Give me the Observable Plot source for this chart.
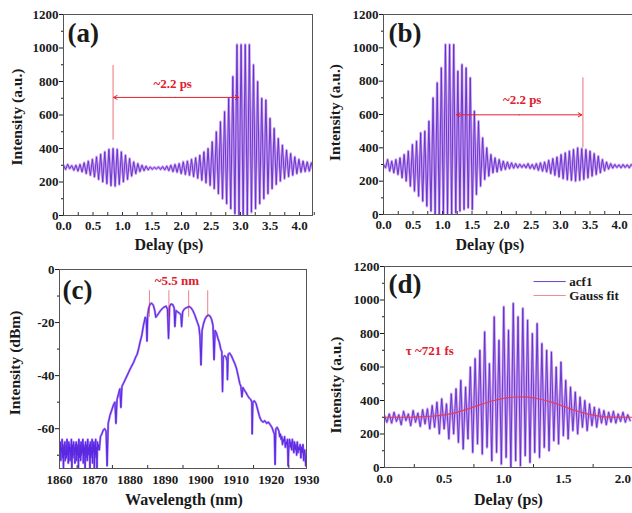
<!DOCTYPE html>
<html><head><meta charset="utf-8">
<script src="https://cdn.jsdelivr.net/npm/d3@7"></script>
<script src="https://cdn.jsdelivr.net/npm/@observablehq/plot@0.6"></script>
<style>
body{margin:0;background:#fff;}
#fig{position:relative;width:632px;height:513px;overflow:hidden;background:#fff;}
</style></head><body><div id="fig"></div>
<script>
// ---------- DATA ----------
// (a) autocorrelation trace, sampled every acfAStep ps
const acfAStep = 0.035;
const acfA = [300,275,305,280,298,270,300,265,305,260,315,250,325,240,335,230,350,215,365,200,
  380,190,395,178,400,175,395,185,380,200,360,215,340,235,320,250,310,262,300,268,
  295,272,290,276,288,278,290,275,292,272,295,268,300,262,305,258,310,250,320,245,
  325,240,335,232,345,222,360,210,380,195,400,180,440,160,500,130,560,100,620,70,
  700,40,830,10,1020,0,1020,0,1020,0,1020,20,900,40,800,70,700,100,690,130,
  580,160,520,185,460,205,420,220,390,232,370,240,350,250,335,258,325,262,320,265,315,270];
// (b) autocorrelation trace
const acfBStep = 0.035;
const acfB = [300,280,330,260,320,250,330,240,340,220,360,200,380,170,420,140,440,110,490,80,
  500,50,560,20,700,0,790,0,880,0,1020,0,1020,0,1020,10,860,20,900,30,
  880,40,820,30,620,120,560,170,460,210,400,230,360,250,340,255,330,265,320,270,
  315,275,310,278,305,280,302,282,300,280,305,276,300,272,305,265,310,260,315,255,
  325,245,335,235,345,225,360,215,370,208,380,205,390,200,400,205,395,210,390,220,
  380,230,365,240,350,250,330,262,315,272,305,278,300,282,298,280,300,282,298,280,300,285];
// (c) optical spectrum: noise floor (short wavelength side), main band, noise tail
const noiseStartNm = 1860, noiseStepNm = 0.125;
const noiseDbm = [-66,-70,-65,-72,-67,-69,-64,-71,-66,-75,-67,-70,-65,-72,-68,-66,-71,-64,-70,-67,
  -73,-65,-69,-66,-72,-67,-70,-64,-75,-66,-71,-68,-65,-70,-67,-73,-66,-69,-65,-72,
  -67,-70,-66,-75,-64,-71,-68,-66,-72,-65,-70,-67,-69,-64,-73,-66,-70,-67,-75,-65,
  -71,-68,-66,-72,-64,-70,-67,-69,-66,-75,-65,-71,-67,-70,-64,-73,-66,-69,-65,-75,
  -66,-70,-64,-71,-67,-75,-65,-68,-66];
const specNm = [1871.3,1871.6,1872,1872.4,1872.8,1873.2,1873.5,1873.8,1874.3,1874.8,1875.3,1875.7,1876,1876.3,1876.7,1877.1,1877.4,1877.7,1878.1,1878.8,1879.5,1880.2,1881,
  1881.6,1882,1882.4,1882.9,1883.3,1883.8,1884.3,1884.6,1884.8,1885,1885.3,1885.7,1886.1,1886.6,1887,1887.3,1887.6,1888.1,
  1888.6,1889.1,1889.6,1890.2,1890.6,1890.9,1891.2,1891.6,1892.1,1892.5,1892.7,1893,1893.5,1894,1894.4,1894.6,1894.9,1895.3,
  1895.8,1896.3,1896.8,1897.3,1897.8,1898.3,1898.7,1899.1,1899.5,1899.8,1900.1,1900.4,1900.8,1901.2,1901.7,1902.2,1902.7,
  1903.1,1903.5,1903.8,1904.1,1904.5,1904.9,1905.3,1905.7,1906,1906.2,1906.4,1906.8,1907.2,1907.5,1907.6,1907.8,1908.2,1908.7,
  1909.2,1909.7,1910.2,1910.7,1911.1,1911.4,1911.7,1912,1912.4,1912.9,1913.3,1913.8,1914.2,1914.5,1914.6,1914.8,1915.2,1915.7,
  1916.2,1916.7,1917.2,1917.7,1918.2,1918.7,1919.2,1919.7,1920.2,1920.6,1920.9,1921.1,1921.3,1921.7];
const specDbm = [-68,-63,-62,-60.5,-60,-61,-74,-58,-55,-53,-51,-50,-58,-49,-47,-45,-52,-44,-43,-41,-39,-37,-35,
  -33,-32,-30,-27,-25,-21,-18,-19,-27,-17,-14.5,-13,-12.7,-13.5,-15.5,-18,-17.5,-16.5,
  -15.5,-14.8,-14.2,-13.8,-15,-26,-14,-13,-13.2,-14.5,-21.5,-15.5,-16,-16.5,-17,-21.5,-16,-15,
  -14.5,-14.2,-14,-14.5,-15.5,-17,-18.5,-20,-21.5,-25,-36,-23,-20.5,-18.8,-17.6,-17.2,-17.6,
  -18.8,-21,-34,-23,-24,-26,-27.5,-30,-31,-46,-33,-32.5,-33,-34.5,-41.5,-32,-31.5,-32.5,
  -34,-35.5,-37.5,-40.5,-43,-44,-48,-44.5,-45.5,-46.5,-47.5,-48.5,-49,-50,-62,-50,-49.5,-50.5,
  -53,-55.5,-57,-57.5,-57,-58,-57.5,-58.5,-59.5,-61,-62,-73.5,-60,-59.5];
const tailStartNm = 1922.2, tailStepNm = 0.2;
const tailDbm = [-61,-63,-62,-64,-63,-66,-64,-65,-63,-67,-65,-66,-64,-74,-66,-64,-67,-65,-68,-64,
  -66,-69,-65,-68,-66,-70,-65,-69,-67,-68,-66,-71,-67,-69,-66,-72,-68,-70,-74,-68];
const peakMarkNm = [1885.5, 1891, 1896.6, 1902];
// (d) autocorrelation trace and Gaussian fit
const acfDStep = 0.02;
const acfD = [310,270,320,265,330,275,315,255,335,280,320,250,340,270,325,245,345,260,350,230,
  370,240,390,200,410,230,380,170,440,200,470,150,520,110,480,170,600,90,650,140,
  700,80,810,120,620,40,900,90,760,20,960,60,820,0,980,40,900,10,950,70,
  880,30,800,90,860,60,740,120,700,100,690,160,600,140,630,190,520,170,480,220,
  450,200,420,240,400,220,380,250,360,240,350,265,340,255,330,270,335,265,320,275,330,270,315,280];
const gaussDelay = [0,0.1,0.2,0.3,0.4,0.5,0.6,0.7,0.8,0.9,1.0,1.1,1.2,1.3,1.4,1.5,1.6,1.7,1.8,1.9,2.0,2.1];
const gaussFit = [300,300,300,302,306,314,328,350,374,397,413,421,420,409,390,365,340,320,307,301,300,300];

// tick labels
const delayTicksAB = [0,0.5,1.0,1.5,2.0,2.5,3.0,3.5,4.0];
const delayMinorAB = [0,0.25,0.5,0.75,1,1.25,1.5,1.75,2,2.25,2.5,2.75,3,3.25,3.5,3.75,4,4.25];
const intTicks = [0,200,400,600,800,1000,1200];
const intMinor = [100,300,500,700,900,1100];
const wlTicks = [1860,1870,1880,1890,1900,1910,1920,1930];
const wlMinor = [1865,1875,1885,1895,1905,1915,1925];
const dbmTicks = [0,-20,-40,-60];
const dbmMinor = [-10,-30,-50,-70];
const delayTicksD = [0,0.5,1.0,1.5,2.0];
const delayMinorD = [0.25,0.75,1.25,1.75];

// ---------- HELPERS ----------
const fig = document.getElementById("fig");
const serif = "'Liberation Serif','Times New Roman',serif";
const RED = "#e0202c";
const toRows = (vals, step, start = 0) => vals.map((v, i) => ({t: start + i * step, v}));

function panel(o) {
  const frameH = o.height - o.mT - o.mB;
  const marks = [
    ...o.marks,
    Plot.frame({stroke: "#555", strokeWidth: 1}),
    Plot.tickX(o.xMinor, {x: d => d, insetTop: frameH - 3, stroke: "#333"}),
    Plot.axisX(o.xTicks, {tickSize: 0, tickPadding: o.xPad, tickFormat: o.xFmt, label: null, fontSize: 13}),
    Plot.axisY(o.yTicks, {tickSize: 4, tickPadding: 1, tickFormat: o.yFmt, label: null, fontSize: 13}),
    Plot.axisY(o.yMinor, {tickSize: 2, tickFormat: () => "", label: null}),
    Plot.text([o.xTitle], {text: d => d, frameAnchor: "bottom", textAnchor: "middle", lineAnchor: "middle", dx: o.xtDx, dy: o.xtDy, fontSize: 16, fontWeight: "bold"}),
    Plot.text([o.yTitle], {text: d => d, frameAnchor: "left", textAnchor: "middle", lineAnchor: "middle", rotate: -90, dx: o.ytDx, dy: o.ytDy, fontSize: 15.5, fontWeight: "bold"}),
    Plot.text([o.tag], {text: d => d, frameAnchor: "top-left", textAnchor: "start", lineAnchor: "middle", dx: o.tagDx, dy: o.tagDy, fontSize: 27, fontWeight: "bold"})
  ];
  const svg = Plot.plot({
    width: o.width, height: o.height,
    marginLeft: o.mL, marginRight: o.mR, marginTop: o.mT, marginBottom: o.mB,
    x: {domain: o.xDomain}, y: {domain: o.yDomain},
    style: {fontFamily: serif, fontWeight: "bold", color: "#1a1a1a", background: "transparent", overflow: "visible"},
    marks
  });
  svg.style.position = "absolute";
  svg.style.left = o.left + "px";
  svg.style.top = o.top + "px";
  fig.appendChild(svg);
}

function traceMarks(rows) {
  return [
    Plot.line(rows, {x: "t", y: "v", stroke: "#cfa0f2", strokeWidth: 2.6, clip: true}),
    Plot.line(rows, {x: "t", y: "v", stroke: "#5b2fc8", strokeWidth: 0.9, clip: true})
  ];
}
const f1 = d3.format(".1f");
const fInt = d => String(d);

// ---------- (a) ----------
const rowsA = toRows(acfA, acfAStep);
panel({
  left: 0, top: 0, width: 316, height: 250, mL: 63, mR: 4, mT: 14, mB: 35,
  xDomain: [0, 4.22], yDomain: [0, 1200],
  xTicks: delayTicksAB, xMinor: delayMinorAB, xFmt: f1, xPad: 5,
  yTicks: intTicks, yMinor: intMinor, yFmt: fInt,
  xTitle: "Delay (ps)", xtDx: -19, xtDy: 29,
  yTitle: "Intensity (a.u.)", ytDx: -46, ytDy: 2,
  tag: "(a)", tagDx: 4, tagDy: 19,
  marks: [
    ...traceMarks(rowsA),
    Plot.ruleX([0.84], {x: d => d, y1: 450, y2: 895, stroke: RED, strokeWidth: 0.8, strokeOpacity: 0.8}),
    Plot.arrow([{x1: 1.9, x2: 0.85}, {x1: 1.9, x2: 2.97}], {x1: "x1", x2: "x2", y1: 705, y2: 705, stroke: RED, strokeWidth: 1, headLength: 6}),
    Plot.text(["~2.2 ps"], {text: d => d, x: 1.85, y: 788, fill: RED, fontSize: 13, fontWeight: "bold"})
  ]
});

// ---------- (b) ----------
const rowsB = toRows(acfB, acfBStep);
panel({
  left: 320, top: 0, width: 312, height: 250, mL: 63, mR: 0, mT: 14, mB: 36,
  xDomain: [0, 4.22], yDomain: [0, 1200],
  xTicks: delayTicksAB, xMinor: delayMinorAB, xFmt: f1, xPad: 5,
  yTicks: intTicks, yMinor: intMinor, yFmt: fInt,
  xTitle: "Delay (ps)", xtDx: -18, xtDy: 30,
  yTitle: "Intensity (a.u.)", ytDx: -48, ytDy: -2,
  tag: "(b)", tagDx: 5, tagDy: 19,
  marks: [
    ...traceMarks(rowsB),
    Plot.ruleX([3.38], {x: d => d, y1: 400, y2: 820, stroke: RED, strokeWidth: 0.8, strokeOpacity: 0.8}),
    Plot.arrow([{x1: 2.3, x2: 1.24}, {x1: 2.3, x2: 3.36}], {x1: "x1", x2: "x2", y1: 598, y2: 598, stroke: RED, strokeWidth: 1, headLength: 6}),
    Plot.text(["~2.2 ps"], {text: d => d, x: 2.35, y: 690, fill: RED, fontSize: 13, fontWeight: "bold"})
  ]
});

// ---------- (c) ----------
const rowsC = [
  ...toRows(noiseDbm, noiseStepNm, noiseStartNm),
  ...specNm.map((n, i) => ({t: n, v: specDbm[i]})),
  ...toRows(tailDbm, tailStepNm, tailStartNm)
];
panel({
  left: 0, top: 250, width: 316, height: 263, mL: 59, mR: 10, mT: 19, mB: 45,
  xDomain: [1860, 1930], yDomain: [-75, 0],
  xTicks: wlTicks, xMinor: wlMinor, xFmt: fInt, xPad: 6,
  yTicks: dbmTicks, yMinor: dbmMinor, yFmt: fInt,
  xTitle: "Wavelength (nm)", xtDx: 1, xtDy: 31,
  yTitle: "Intensity (dBm)", ytDx: -44, ytDy: -6,
  tag: "(c)", tagDx: 3, tagDy: 21,
  marks: [
    Plot.line(rowsC, {x: "t", y: "v", stroke: "#a57af7", strokeWidth: 2.2, clip: true}),
    Plot.line(rowsC, {x: "t", y: "v", stroke: "#5a28e0", strokeWidth: 1, clip: true}),
    Plot.ruleX(peakMarkNm, {x: d => d, y1: -8, y2: -18, stroke: RED, strokeWidth: 0.8, strokeOpacity: 0.7}),
    Plot.text(["~5.5 nm"], {text: d => d, x: 1893.3, y: -4.2, fill: RED, fontSize: 13, fontWeight: "bold"})
  ]
});

// ---------- (d) ----------
const rowsD = toRows(acfD, acfDStep);
const rowsG = gaussDelay.map((t, i) => ({t, v: gaussFit[i]}));
const legendItems = [
  {label: "acf1", color: "#6a3fd0", y: 1110},
  {label: "Gauss fit", color: "#f08a98", y: 1027}
];
panel({
  left: 320, top: 250, width: 312, height: 263, mL: 64, mR: 0, mT: 16, mB: 46,
  xDomain: [0, 2.08], yDomain: [0, 1200],
  xTicks: delayTicksD, xMinor: delayMinorD, xFmt: f1, xPad: 6,
  yTicks: intTicks, yMinor: intMinor, yFmt: fInt,
  xTitle: "Delay (ps)", xtDx: 0, xtDy: 32,
  yTitle: "Intensity (a.u.)", ytDx: -48, ytDy: 18,
  tag: "(d)", tagDx: 4, tagDy: 18,
  marks: [
    ...traceMarks(rowsD),
    Plot.line(rowsG, {x: "t", y: "v", stroke: "#e0405a", strokeWidth: 1.2, curve: "natural", clip: true}),
    Plot.link(legendItems, {x1: 1.25, x2: 1.52, y1: "y", y2: "y", stroke: "color", strokeWidth: 1}),
    Plot.text(legendItems, {x: 1.55, y: "y", text: "label", textAnchor: "start", fontSize: 13, fontWeight: "bold"}),
    Plot.text(["τ ~721 fs"], {text: d => d, x: 0.38, y: 698, fill: RED, fontSize: 13, fontWeight: "bold"})
  ]
});
</script>
</body></html>
